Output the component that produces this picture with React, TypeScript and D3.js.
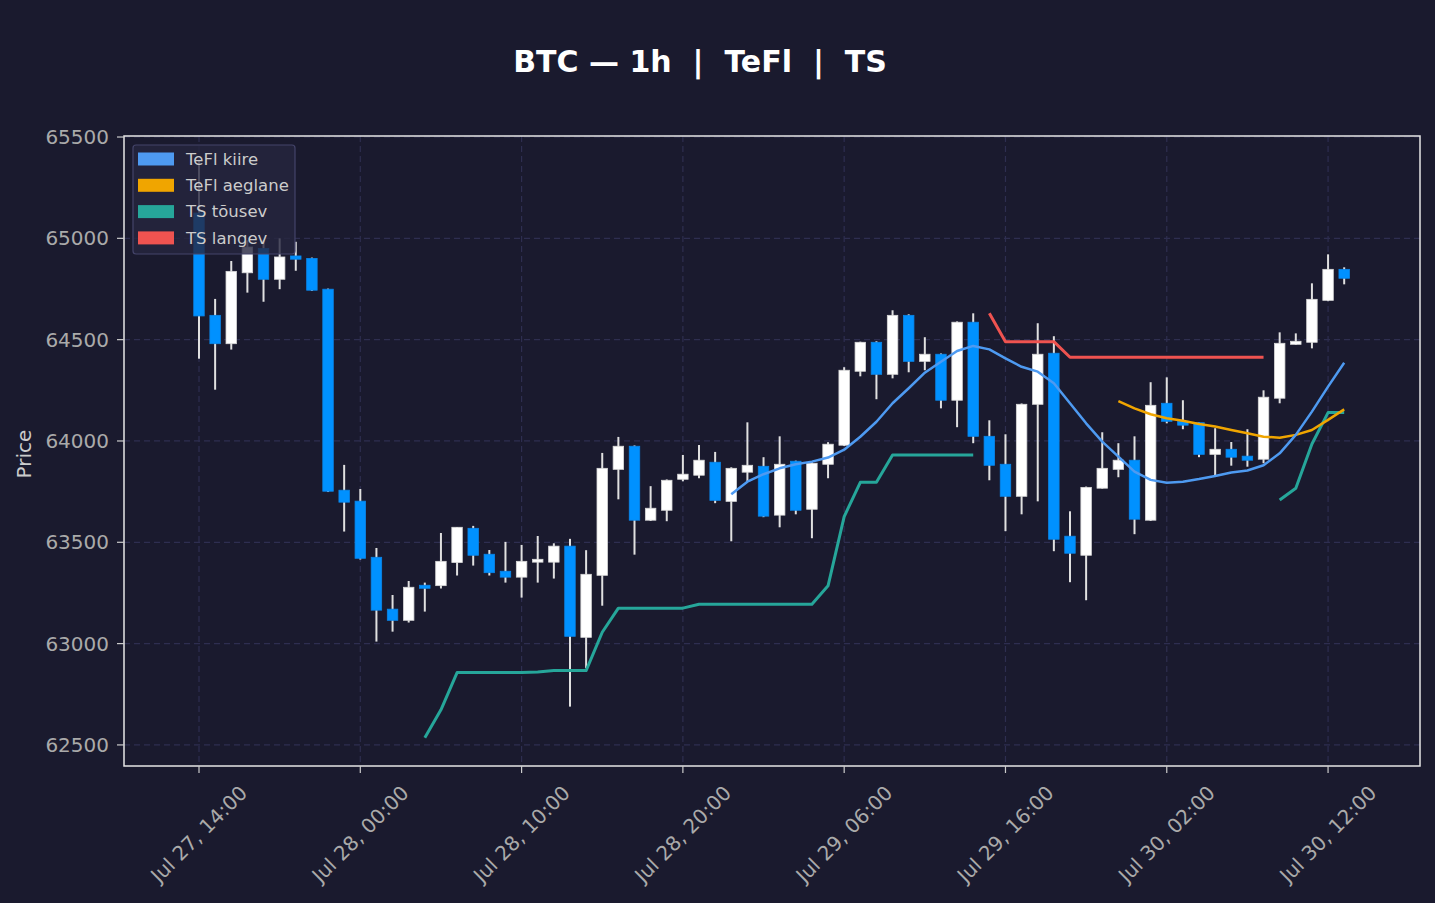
import * as d3 from "d3";
import React from "react";

// hourly candles, Jul 27 14:00 -> Jul 30 13:00 (UTC)
const startTime = Date.UTC(2024, 6, 27, 14);

const opens = [
  65125, 64620, 64480, 64830, 64950, 64798, 64913, 64901, 64749, 63757, 63703, 63426,
  63170, 63115, 63288, 63286, 63400, 63569, 63441, 63357, 63328, 63402, 63402, 63481,
  63031, 63337, 63860, 63974, 63609, 63658, 63811, 63831, 63895, 63702, 63846, 63875,
  63634, 63900, 63663, 63885, 63979, 64344, 64487, 64329, 64620, 64393, 64428, 64201,
  64586, 64023, 63885, 63727, 64181, 64433, 63530, 63436, 63767, 63860, 63905, 63609,
  64186, 64097, 64090, 63934, 63959, 63925, 63910, 64211, 64477, 64487, 64694, 64847,
];
const highs = [
  65387, 64701, 64888, 64990, 64990, 65000, 64983, 64905, 64752, 63882, 63763, 63472,
  63240, 63309, 63301, 63546, 63574, 63581, 63462, 63502, 63487, 63531, 63495, 63517,
  63461, 63941, 64020, 63978, 63777, 63810, 63931, 63980, 63946, 63870, 64092, 63920,
  64023, 63903, 63895, 63994, 64364, 64490, 64492, 64645, 64625, 64512, 64432, 64590,
  64630, 64102, 64033, 64185, 64581, 64517, 63653, 63775, 64043, 63989, 64023, 64290,
  64314, 64201, 64092, 64063, 63995, 64058, 64250, 64536, 64531, 64778, 64921, 64857,
];
const lows = [
  64406, 64253, 64451, 64732, 64687, 64749, 64840, 64740, 63748, 63553, 63415, 63010,
  63059, 63104, 63158, 63272, 63336, 63385, 63336, 63301, 63227, 63301, 63321, 62689,
  62879, 63187, 63712, 63439, 63605, 63604, 63801, 63816, 63693, 63505, 63801, 63624,
  63574, 63638, 63520, 63816, 63975, 64319, 64206, 64309, 64339, 64349, 64161, 64068,
  63989, 63806, 63555, 63638, 63702, 63456, 63303, 63214, 63765, 63821, 63540, 63605,
  64087, 64058, 63920, 63831, 63878, 63873, 63890, 64186, 64475, 64457, 64690, 64773,
];
const closes = [
  64617, 64480, 64837, 64957, 64798, 64908, 64897, 64744, 63752, 63698, 63421, 63165,
  63115, 63278, 63273, 63406, 63574, 63436, 63350, 63328, 63406, 63416, 63481, 63036,
  63342, 63865, 63974, 63609, 63668, 63806, 63836, 63905, 63707, 63865, 63880, 63629,
  63885, 63658, 63890, 63984, 64349, 64487, 64329, 64620, 64393, 64428, 64201, 64586,
  64023, 63880, 63727, 64181, 64428, 63515, 63446, 63771, 63865, 63905, 63614, 64176,
  64097, 64078, 63934, 63959, 63920, 63905, 64216, 64482, 64492, 64699, 64847, 64803,
];

// indicator lines: first candle index + values
const teflFastStart = 33;
const teflFast = [
  63737, 63799, 63836, 63865, 63885, 63898, 63918, 63957, 64021, 64095, 64186, 64260,
  64337, 64391, 64444, 64469, 64452, 64408, 64366, 64342, 64285, 64186, 64087, 63997,
  63923, 63849, 63808, 63794, 63799, 63812, 63827, 63844, 63854, 63880, 63939, 64030,
  64145, 64268, 64386,
];
const teflSlowStart = 57;
const teflSlow = [
  64197, 64161, 64132, 64112, 64100, 64084, 64071, 64054, 64038, 64021, 64016, 64030,
  64054, 64104, 64156,
];
const tsUpStart = 14;
const tsUp = [
  62535, 62673, 62857, 62857, 62857, 62857, 62857, 62860, 62867, 62867, 62867, 63056,
  63175, 63175, 63175, 63175, 63175, 63194, 63194, 63194, 63194, 63194, 63194, 63194,
  63194, 63285, 63627, 63796, 63796, 63931, 63931, 63931, 63931, 63931, 63931,
];
const tsUp2Start = 67;
const tsUp2 = [63709, 63767, 63985, 64140, 64140];
const tsDownStart = 49;
const tsDown = [
  64630, 64490, 64490, 64490, 64490, 64413, 64413, 64413, 64413, 64413, 64413, 64413,
  64413, 64413, 64413, 64413, 64413, 64413,
];

const yTicks = [62500, 63000, 63500, 64000, 64500, 65000, 65500];
const xTickLabels = [
  "Jul 27, 14:00",
  "Jul 28, 00:00",
  "Jul 28, 10:00",
  "Jul 28, 20:00",
  "Jul 29, 06:00",
  "Jul 29, 16:00",
  "Jul 30, 02:00",
  "Jul 30, 12:00",
];
const xTickEvery = 10;

const legendItems = [
  { label: "TeFl kiire", color: "#4e9af1" },
  { label: "TeFl aeglane", color: "#f0a500" },
  { label: "TS tõusev", color: "#26a69a" },
  { label: "TS langev", color: "#ef5350" },
];

const W = 1435;
const H = 903;
const left = 124;
const right = 1420;
const top = 136;
const bottom = 766;
const HOUR = 3600 * 1000;
const font = "'DejaVu Sans', sans-serif";

export default function App() {
  const times = opens.map((_, i) => new Date(startTime + i * HOUR));
  const x = d3
    .scaleUtc()
    .domain([new Date(startTime - 4.65 * HOUR), new Date(startTime + 75.7 * HOUR)])
    .range([left, right]);
  const y = d3.scaleLinear().domain([62396, 65505]).range([bottom, top]);
  const hourPx = x(new Date(startTime + HOUR)) - x(new Date(startTime));
  const bodyW = hourPx * 0.65;

  const line = d3
    .line<[number, number]>()
    .x((d) => x(times[d[0]]))
    .y((d) => y(d[1]));
  const toPts = (s: number, vals: number[]) =>
    vals.map((v, k) => [s + k, v] as [number, number]);

  const series = [
    { pts: toPts(tsUpStart, tsUp), color: "#26a69a", w: 3 },
    { pts: toPts(tsUp2Start, tsUp2), color: "#26a69a", w: 3 },
    { pts: toPts(tsDownStart, tsDown), color: "#ef5350", w: 3 },
    { pts: toPts(teflSlowStart, teflSlow), color: "#f0a500", w: 2.5 },
    { pts: toPts(teflFastStart, teflFast), color: "#4e9af1", w: 2.5 },
  ];

  return (
    <svg
      width={W}
      height={H}
      style={{ position: "absolute", left: 0, top: 0, display: "block", background: "#1a1a2e" }}
      fontFamily={font}
    >
      <rect x={0} y={0} width={W} height={H} fill="#1a1a2e" />
      <text
        x={700}
        y={72}
        textAnchor="middle"
        fill="#ffffff"
        fontWeight="bold"
        fontSize={30}
        style={{ whiteSpace: "pre" }}
      >
        {"BTC — 1h  |  TeFl  |  TS"}
      </text>

      {/* grid */}
      {yTicks.map((t) => (
        <line
          key={"gy" + t}
          x1={left}
          x2={right}
          y1={y(t)}
          y2={y(t)}
          stroke="#2e2e50"
          strokeWidth={1.2}
          strokeDasharray="6,4"
        />
      ))}
      {xTickLabels.map((lab, k) => (
        <line
          key={"gx" + lab}
          x1={x(times[k * xTickEvery])}
          x2={x(times[k * xTickEvery])}
          y1={top}
          y2={bottom}
          stroke="#2e2e50"
          strokeWidth={1.2}
          strokeDasharray="6,4"
        />
      ))}

      {/* candles */}
      {times.map((t, i) => {
        const up = closes[i] >= opens[i];
        const cx = x(t);
        const y0 = y(Math.max(opens[i], closes[i]));
        const y1 = y(Math.min(opens[i], closes[i]));
        return (
          <g key={i}>
            <line x1={cx} x2={cx} y1={y(highs[i])} y2={y(lows[i])} stroke="#e0e0e0" strokeWidth={2} />
            <rect
              x={cx - bodyW / 2}
              y={y0}
              width={bodyW}
              height={Math.max(y1 - y0, 1.5)}
              fill={up ? "#ffffff" : "#0091ff"}
              stroke={up ? "#d8d8d8" : "#0a86ea"}
              strokeWidth={0.8}
            />
          </g>
        );
      })}

      {/* indicator lines */}
      {series.map((s, k) => (
        <path key={k} d={line(s.pts) || ""} fill="none" stroke={s.color} strokeWidth={s.w} strokeLinejoin="round" />
      ))}

      {/* frame */}
      <rect x={left} y={top} width={right - left} height={bottom - top} fill="none" stroke="#e6e6e6" strokeWidth={1.5} />

      {/* y axis */}
      {yTicks.map((t) => (
        <g key={"yt" + t}>
          <line x1={left - 7} x2={left} y1={y(t)} y2={y(t)} stroke="#cccccc" strokeWidth={1.2} />
          <text x={left - 15} y={y(t)} dy="0.35em" textAnchor="end" fill="#aaaaaa" fontSize={20}>
            {t}
          </text>
        </g>
      ))}
      <text
        transform={`translate(31,${(top + bottom) / 2 + 3}) rotate(-90)`}
        textAnchor="middle"
        fill="#cccccc"
        fontSize={20}
      >
        Price
      </text>

      {/* x axis */}
      {xTickLabels.map((lab, k) => {
        const tx = x(times[k * xTickEvery]);
        return (
          <g key={"xt" + lab}>
            <line x1={tx} x2={tx} y1={bottom} y2={bottom + 7} stroke="#cccccc" strokeWidth={1.2} />
            <text
              transform={`translate(${tx},834) rotate(-45)`}
              textAnchor="middle"
              dominantBaseline="central"
              fill="#aaaaaa"
              fontSize={20}
            >
              {lab}
            </text>
          </g>
        );
      })}

      {/* legend */}
      <rect x={133} y={145} width={162} height={109} rx={3} fill="#26263f" fillOpacity={0.8} stroke="#44446a" strokeWidth={1.2} />
      {legendItems.map((it, k) => (
        <g key={it.label} transform={`translate(0,${159 + k * 26.3})`}>
          <rect x={138} y={-6.5} width={36} height={13} fill={it.color} />
          <text x={186} y={0} dy="0.35em" fill="#cccccc" fontSize={16.5}>
            {it.label}
          </text>
        </g>
      ))}
    </svg>
  );
}
